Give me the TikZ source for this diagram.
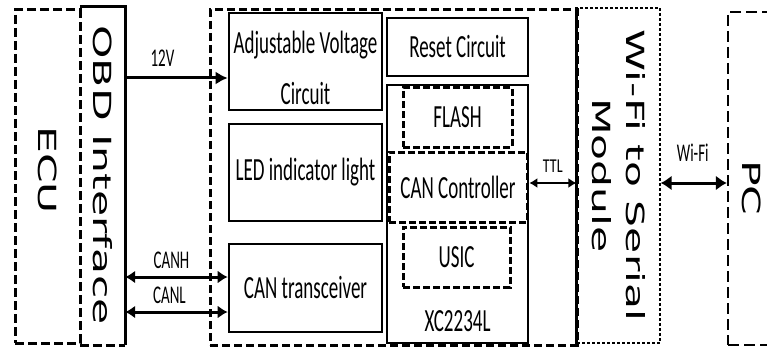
\documentclass[tikz,border=0pt]{standalone}
\usepackage{fontspec}
\usepackage{graphicx}
\setmainfont{Carlito}
\newfontfamily\dvs{DejaVu Sans}
\usetikzlibrary{arrows.meta}
\newcommand{\vs}[1]{\scalebox{1}[1.7]{#1}}
\newcommand{\hs}[1]{\scalebox{1.7}[1]{#1}}
\begin{document}
\begin{tikzpicture}[x=1pt,y=-1pt,
  solidbox/.style={draw, line width=2.6pt, rectangle, inner sep=0pt, font=\fontsize{19}{51}\selectfont, align=center},
  innerdash/.style={draw, line width=3pt, dash pattern=on 7pt off 3pt, rectangle, inner sep=0pt, font=\fontsize{19}{51}\selectfont},
  bigdash/.style={draw, line width=3pt, dash pattern=on 9pt off 4pt, rectangle, inner sep=0pt},
  thindash/.style={draw, line width=1.2pt, dash pattern=on 3pt off 2pt, rectangle, inner sep=0pt},
  pcdash/.style={draw, line width=2.2pt, dash pattern=on 11pt off 5pt, rectangle, inner sep=0pt},
  solidline/.style={line width=2.8pt},
  rot/.style={font=\dvs\fontsize{25}{34}\selectfont},
  lab/.style={font=\fontsize{15}{18}\selectfont, inner sep=0pt},
  arr/.style={line width=3pt, -{Latex[length=12pt,width=13pt]}},
  darr/.style={line width=3pt, {Latex[length=10pt,width=13pt]}-{Latex[length=10pt,width=13pt]}},
  wfarr/.style={line width=3pt, {Latex[length=11pt,width=15pt]}-{Latex[length=11pt,width=15pt]}},
  ttlarr/.style={line width=1.6pt, {Latex[length=8pt,width=10pt]}-{Latex[length=8pt,width=10pt]}}
]
\useasboundingbox (0,0) rectangle (767,350);
\fill[white] (0,0) rectangle (767,350);

% left side
\node[bigdash, minimum width=65pt, minimum height=333pt, rot] (ecu) at (47.5,176.5)
  {\rotatebox{-90}{\hs{ECU}\hspace{13pt}}};
\node[minimum width=45pt, minimum height=338pt, inner sep=0pt, rot] (obd) at (102.5,176)
  {\rotatebox{-90}{\hs{OBD Interface}\hspace{2pt}}};
\draw[solidline] (obd.north west) -- (obd.north east) -- (obd.south east);
\draw[line width=3pt, dash pattern=on 9pt off 4pt] (obd.south west) -- (obd.south east);

% main board
\node[bigdash, dash pattern=on 8pt off 4pt, minimum width=367pt, minimum height=335pt] (main) at (393.5,177.5) {};
\node[solidbox, minimum width=153pt, minimum height=97pt] (avc) at (305.5,61.5)
  {\raisebox{-6pt}[\height][\depth]{\parbox{150pt}{\centering\fontsize{19}{51}\selectfont\vs{Adjustable Voltage}\\\vs{Circuit}}}};
\node[solidbox, minimum width=153pt, minimum height=97pt] (led) at (305.5,172.5) {\vs{LED indicator light}};
\node[solidbox, minimum width=153pt, minimum height=88pt] (cant) at (305.5,288) {\vs{CAN transceiver}};
\node[solidbox, minimum width=141pt, minimum height=58pt] (reset) at (457.5,47) {\vs{Reset Circuit}};
\node[solidbox, minimum width=141pt, minimum height=258pt, label={[font=\fontsize{19}{20}\selectfont, inner sep=0pt, anchor=center, yshift=23pt]south:\vs{XC2234L}}] (xc) at (457.5,214) {};
\node[innerdash, minimum width=109pt, minimum height=59pt] (flash) at (457.5,117.5) {\vs{FLASH}};
\node[innerdash, fill=white, minimum width=138pt, minimum height=70pt] (canc) at (458,187) {\vs{CAN Controller}};
\node[innerdash, minimum width=107pt, minimum height=60pt] (usic) at (456.5,257) {\vs{USIC}};

% wifi module
\node[thindash, minimum width=83pt, minimum height=335pt, rot] (wifi) at (618.5,175.5)
  {\rotatebox{-90}{\parbox{300pt}{\centering\dvs\fontsize{25}{34}\selectfont\hs{Wi-Fi to Serial}\\\hs{Module}}}};
\draw[solidline] (wifi.north west) -- (wifi.south west);

% PC
\node[pcdash, minimum width=48pt, minimum height=333pt, rot] (pc) at (752,178.5)
  {\rotatebox{-90}{\hspace{19pt}\hs{PC}}};

% connectors
\coordinate (y12) at (0,78);
\coordinate (ycanh) at (0,277);
\coordinate (ycanl) at (0,312);
\coordinate (yttl) at (0,183);
\draw[arr] (obd.east |- y12) -- node[lab, above=10pt, xshift=-14pt] {\vs{12V}} (avc.west |- y12);
\draw[darr] (obd.east |- ycanh) -- node[lab, above=7pt, xshift=-5pt] {\vs{CANH}} (cant.west |- ycanh);
\draw[darr] (obd.east |- ycanl) -- node[lab, above=7pt, xshift=-7pt] {\vs{CANL}} (cant.west |- ycanl);
\draw[ttlarr] (xc.east |- yttl) -- node[lab, font=\fontsize{14}{16}\selectfont, above=10pt, xshift=0pt] {\scalebox{1}[1.4]{TTL}} (wifi.west |- yttl);
\draw[wfarr] (wifi.east |- yttl) -- node[lab, above=20pt, xshift=-1pt] {\vs{Wi-Fi}} (pc.west |- yttl);
\end{tikzpicture}
\end{document}
